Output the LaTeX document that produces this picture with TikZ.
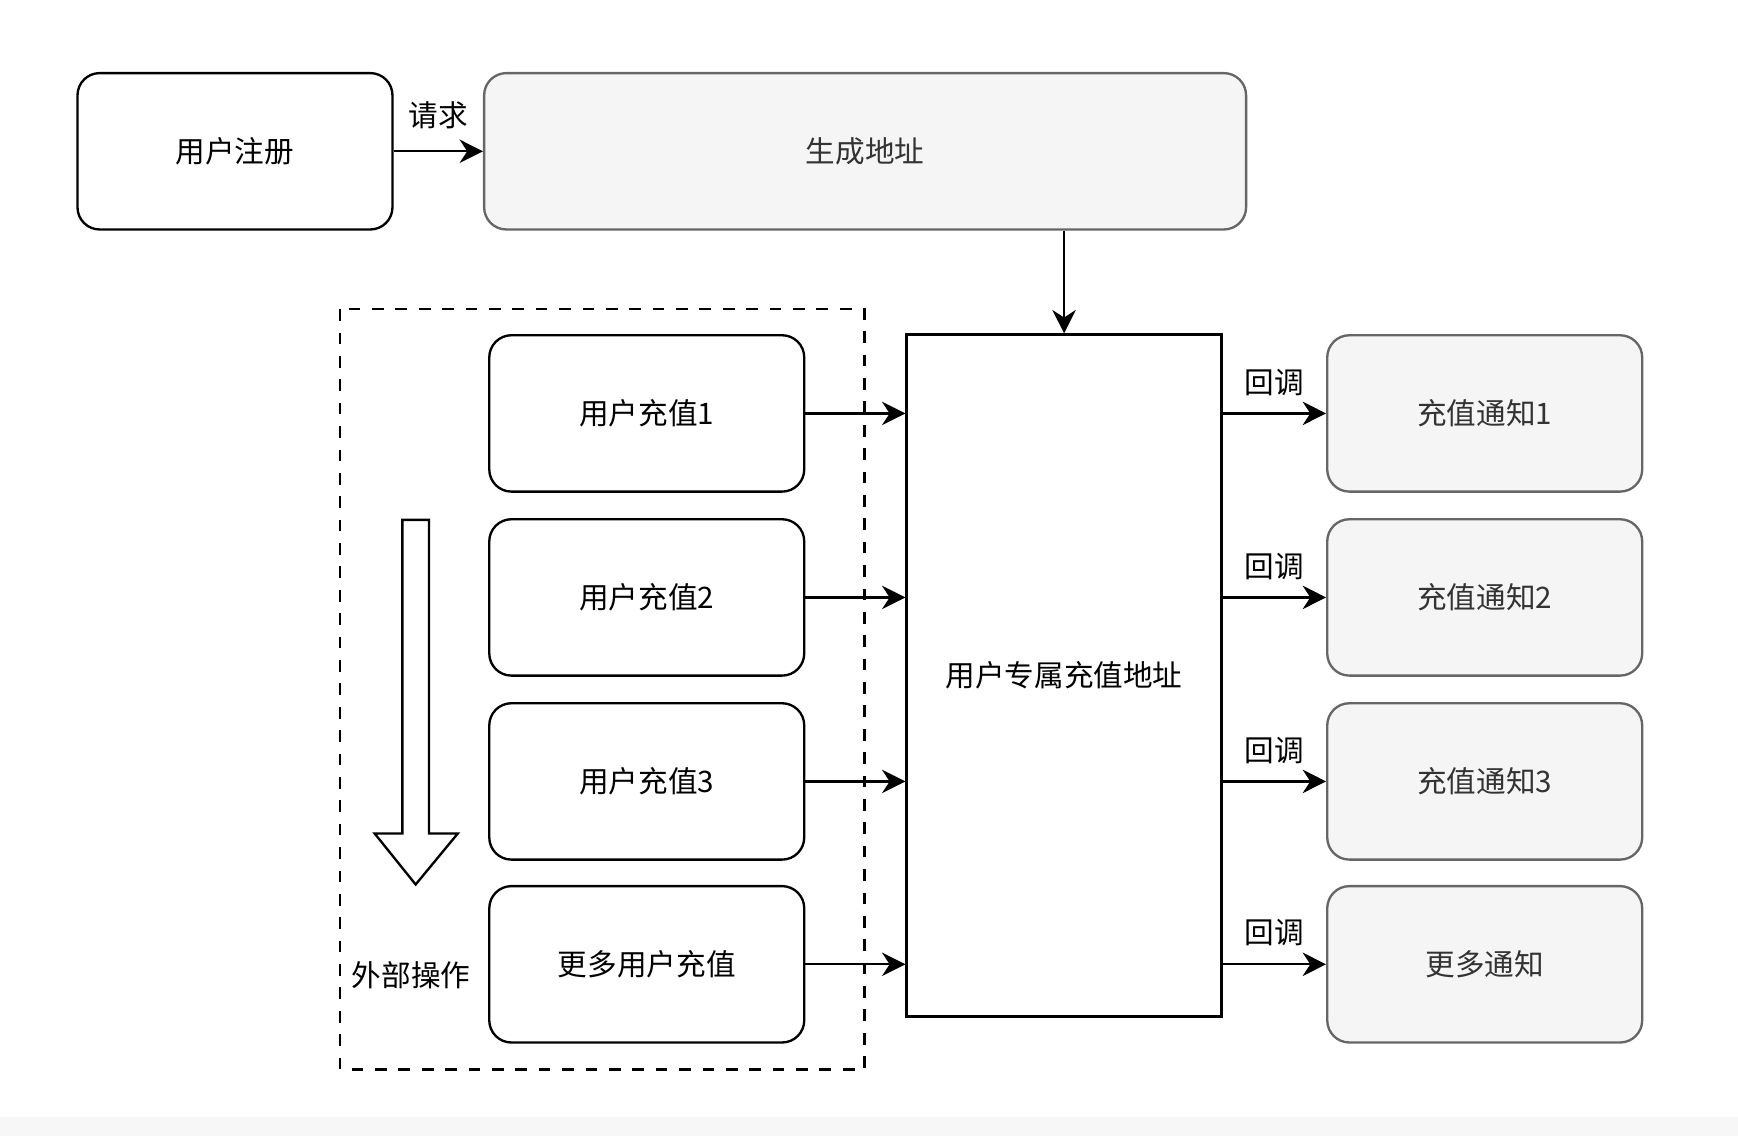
\documentclass[tikz,border=0pt]{standalone}
\usepackage{fontspec}
\setmainfont{Noto Sans CJK SC}
\usetikzlibrary{arrows.meta}
\begin{document}
\begin{tikzpicture}[x=0.01cm,y=-0.01cm,
  every node/.style={font=\fontsize{7.6}{9}\selectfont},
  box/.style={draw,line width=0.6pt,rounded corners=0.2cm,minimum width=2.84cm,minimum height=1.41cm},
  gbox/.style={box,fill=gray!8,draw=black!60,text=black!80},
  arr/.style={-{Stealth[length=6pt,width=6pt]},line width=0.6pt}]
\useasboundingbox (0,0) rectangle (1568,1025);
\fill[black!3] (0,1008) rectangle (1568,1025);
\node[box] (reg) at (212,136.5) {用户注册};
\node[gbox,minimum width=6.87cm] (gen) at (780.5,136.5) {生成地址};
\draw[arr] (reg) -- node[above,yshift=2pt]{请求} (gen);
\draw[dashed,line width=0.6pt] (307,279) rectangle (780,965);
\node[draw,line width=0.6pt,minimum width=2.84cm,minimum height=6.15cm] (addr) at (960,609.5) {用户专属充值地址};
\draw[arr] (gen.south -| addr.north) -- (addr.north);
\foreach \n/\y/\a/\b in {1/373/用户充值1/充值通知1,2/539/用户充值2/充值通知2,3/705/用户充值3/充值通知3,4/870/更多用户充值/更多通知}{
  \node[box] (u\n) at (583.5,\y) {\a};
  \node[gbox] (c\n) at (1339.5,\y) {\b};
  \draw[arr] (u\n.east) -- (u\n.east -| addr.west);
  \draw[arr] (c\n.west -| addr.east) -- node[above,yshift=1pt]{回调} (c\n.west);
}
\draw[line width=0.6pt,fill=white] (363,469) -- (387,469) -- (387,752) -- (413,752) -- (375,798) -- (338,752) -- (363,752) -- cycle;
\node (ext) at (371,880) {外部操作};
\end{tikzpicture}
\end{document}
